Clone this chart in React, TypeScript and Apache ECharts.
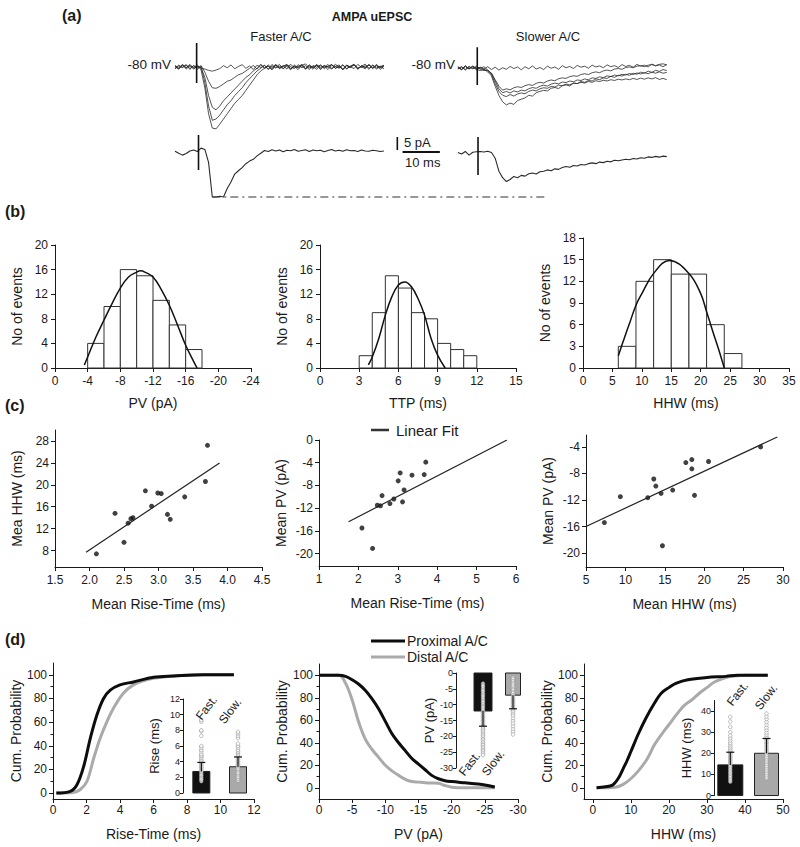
import React, { useEffect, useRef } from "react";
import * as echarts from "echarts";

const FONT = "'Liberation Sans', Arial, Helvetica, sans-serif";
const INK = "#1a1a1a";

// ---------------- (a) AMPA uEPSC traces (pA re. baseline, 1 ms sampling) ----------------
const fasterTraces = [
  [0.6,-0.4,1.0,-0.8,0.5,-0.2,0.8,-1.2,-8,-18,-23.5,-23.8,-22,-20,-18,-16,-14,-12.5,-11,-9,-7,-5,-3,-1.5,-0.5,0.8,-0.5,1.1,-0.7,0.4,0.9,-0.8,0.3,-1.0,0.6,1.2,-0.4,0.2,-0.9,0.7,-0.3,1.0,-0.6,0.2,0.8,-1.1,0.5,-0.2,0.9,-0.7,0.3,1.1,-0.5,0.6,-0.8,0.2,0.5],
  [-0.5,0.7,-0.3,0.9,-0.6,0.4,-0.9,0.3,-6,-15,-20.5,-20,-18.5,-16.5,-14.5,-13,-11,-9.5,-8,-6,-4.5,-3,-1.5,-0.5,0.7,-0.9,0.4,-0.2,1.0,-0.6,0.3,-1.1,0.8,-0.4,0.5,-0.7,0.9,-0.2,0.6,-1.0,0.4,0.1,-0.8,1.1,-0.3,0.7,-0.6,0.2,0.9,-0.9,0.5,-0.1,0.8,-0.5,1.0,-0.3,0.4],
  [0.2,-0.9,0.6,-0.3,1.0,-0.5,0.1,-0.4,-4,-11,-15.5,-16.5,-15,-13,-11.5,-10,-8.5,-7,-5.5,-4,-3,-1.5,-0.5,0.9,-0.6,0.3,-1.0,0.7,-0.2,0.5,-0.8,1.1,-0.4,0.2,0.8,-0.9,0.4,-0.3,1.0,-0.7,0.6,-0.1,0.9,-0.5,0.3,-1.0,0.7,0.1,-0.6,1.0,-0.2,0.5,-0.9,0.8,-0.4,0.3,-0.7],
  [-0.7,0.4,-0.1,0.8,-0.9,0.6,-0.3,0.5,-2,-5.5,-8,-8.2,-7.5,-6.5,-5.5,-5,-4,-3,-2.5,-1.5,-0.5,0.6,-0.8,1.0,-0.3,0.4,-1.1,0.7,-0.5,0.2,0.9,-0.7,0.3,-0.2,1.1,-0.6,0.5,-0.9,0.8,-0.1,0.4,-1.0,0.6,0.2,-0.5,0.9,-0.8,0.3,1.0,-0.4,0.1,-0.7,0.8,-0.3,0.6,-0.9,0.2],
  [0.4,-0.6,0.9,-0.2,0.5,-0.8,0.3,-0.4,-0.8,-1.3,-1.6,-1.2,-0.6,0.5,-0.3,0.8,-0.7,0.2,0.9,-0.5,0.4,-1.0,0.7,-0.2,0.6,-0.9,1.0,-0.4,0.3,-0.7,0.8,0.1,-0.6,0.9,-0.3,0.5,-1.0,0.6,-0.1,0.8,-0.6,0.3,1.0,-0.5,0.2,-0.8,0.7,-0.2,0.9,-0.7,0.4,-0.3,1.0,-0.6,0.5,-0.1,0.7],
];
const slowerTraces = [
  [0.5,-0.6,0.9,-0.3,0.4,-0.5,-1,-0.5,-1.5,-3,-7,-10.5,-13,-14.2,-13.5,-14,-12.5,-12,-11.5,-10.5,-10.8,-9.5,-9,-8.6,-8.8,-7.8,-7.5,-7.9,-6.8,-6.5,-6.9,-5.8,-6,-5.2,-5.5,-4.8,-5,-4.2,-4.5,-3.8,-4,-3.2,-3.6,-2.8,-3.1,-2.4,-2.8,-2,-2.4,-1.6,-2,-1.2,-1.7,-0.9,-1.3,-0.6,-1],
  [-0.3,0.6,-0.8,0.4,-0.2,0.7,-0.5,-1,-0.8,-2.5,-6,-9,-10.5,-11,-10.2,-10.8,-10,-9.6,-9.9,-9,-8.5,-8.8,-8,-7.6,-7.8,-7.1,-7.3,-6.6,-6.8,-6.2,-6.5,-5.8,-6,-5.5,-5.8,-5.2,-5.5,-4.9,-5.2,-4.7,-5,-4.5,-4.8,-4.3,-4.6,-4.2,-4.5,-4,-4.4,-3.9,-4.3,-3.8,-4.2,-3.7,-4.4,-4,-4.5],
  [0.2,-0.7,0.5,-0.4,0.8,-0.2,0.3,-0.6,-1,-2,-5,-8,-9.5,-9,-9.6,-8.8,-9.2,-8.5,-8.8,-8,-7.5,-7.8,-7,-6.6,-7,-6.2,-5.8,-6.1,-5.4,-5.6,-5,-5.3,-4.6,-4.8,-4.2,-4.5,-3.8,-4,-3.4,-3.7,-3,-3.3,-2.7,-3,-2.4,-2.7,-2.1,-2.5,-1.9,-2.3,-1.8,-2.2,-1.6,-2,-1.5,-2,-1.7],
  [-0.4,0.3,-0.6,0.7,-0.3,0.4,-0.2,0.5,-0.8,-2,-4.5,-7,-8.5,-8,-8.4,-7.6,-7.2,-7.5,-6.8,-6.4,-6.7,-5.9,-5.5,-5.8,-5,-4.6,-4.9,-4.1,-3.8,-4,-3.3,-3,-3.2,-2.5,-2.2,-2.5,-1.8,-1.5,-1.8,-1.1,-0.8,-1.1,-0.4,-0.2,-0.5,0.2,0.4,0.1,0.7,0.9,0.5,1.1,1.3,0.9,1.4,1.6,1.2],
  [0.4,-0.5,0.8,-0.3,0.6,-0.7,0.2,-0.4,0.5,-0.6,0.3,-0.8,0.1,-0.5,0.6,-0.2,0.4,-0.7,0.5,-0.3,0.8,-0.4,0.2,-0.6,0.7,-0.1,0.4,-0.5,0.9,0.1,0.6,-0.2,1,0.3,0.7,-0.1,1.1,0.4,0.8,0.1,1.2,0.5,0.9,0.2,1.3,0.6,1,0.3,1.4,0.7,1.1,0.4,1.5,0.8,1.2,0.5,1.3],
];
const fasterExample = [0.3,-0.5,-1.2,-0.6,0.4,0.8,0.2,1.5,1.0,-4,-17.3,-17.3,-17,-17.3,-14,-11.5,-8.5,-7.2,-6,-4.5,-3.5,-2.8,-1.5,-0.5,0.6,0.2,0.9,0.4,0.8,0.1,0.7,0.5,1.0,0.3,0.6,0.9,0.2,0.8,0.5,0.7,0.1,0.6,1.0,0.4,0.7,0.3,0.9,0.5,0.6,0.2,0.8,0.4,0.3,0.7,0.5,0.2,0.4];
const slowerExample = [0.2,-0.4,0.6,-0.8,0.3,0.5,0.6,0.4,0.7,0.2,-2,-7,-9.5,-11,-10.2,-9,-9.5,-8.6,-8.9,-8,-7.7,-8.1,-7.2,-7,-6.5,-6.8,-6.1,-6.3,-5.6,-5.2,-5.5,-4.8,-5,-4.4,-4.6,-4.1,-3.8,-4.1,-3.5,-3.7,-3.2,-3.4,-2.8,-3,-2.7,-2.4,-2.6,-2.1,-2.3,-1.8,-2,-1.5,-1.7,-1.3,-1.6,-1.2,-1.4];
// stimulus artifacts [time ms, upper pA, lower pA]: faster top, slower top, faster example, slower example
const artifacts = [[5.8, 9.2, -6.2], [5.2, 8.0, -6.5], [6.3, 6.5, -6.9], [5.4, 6.2, -8.5]];
const scaleBarPA = 5;
const scaleBarMS = 10;

// ---------------- (b) histograms ----------------
const pvEdges = [-4, -6, -8, -10, -12, -14, -16, -18];
const pvCounts = [4, 10, 16, 15, 11, 7, 3];
const pvFitX = [-3.6, -4, -5, -6, -7, -8, -9, -10, -10.5, -11, -12, -13, -14, -15, -16, -17, -17.4];
const pvFitY = [0.5, 1.8, 5, 7.8, 10.5, 13, 14.8, 15.6, 15.8, 15.6, 14.8, 12.8, 10.2, 7, 3.7, 1, 0];
const ttpEdges = [3, 4, 5, 6, 7, 8, 9, 10, 11, 12];
const ttpCounts = [2, 9, 15, 13, 9, 8, 4, 3, 2];
const ttpFitX = [3.7, 4, 4.5, 5, 5.5, 6, 6.5, 7, 7.5, 8, 8.5, 9, 9.58];
const ttpFitY = [0.5, 1.8, 4.8, 8.6, 11.6, 13.5, 14, 13.2, 11.3, 8.6, 4.8, 2.1, 0];
const hhwEdges = [6, 9, 12, 15, 18, 21, 24, 27];
const hhwCounts = [3, 12, 15, 13, 13, 6, 2];
const hhwFitX = [6, 7, 8, 9, 10, 12, 14.7, 18, 20, 21, 22, 23, 24];
const hhwFitY = [1.7, 4.1, 6.4, 8.7, 10.3, 13.1, 14.9, 13.1, 10.3, 7.8, 5.2, 2.7, 0];

// ---------------- (c) scatter plots ----------------
const riseVsHhwX = [2.1, 2.37, 2.5, 2.56, 2.6, 2.63, 2.81, 2.9, 2.99, 3.04, 3.13, 3.17, 3.38, 3.68, 3.71];
const riseVsHhwY = [7.4, 14.8, 9.5, 13.0, 13.8, 14.0, 18.9, 16.1, 18.5, 18.4, 14.6, 13.7, 17.8, 20.6, 27.2];
const riseVsHhwFitX = [1.95, 3.885];
const riseVsHhwFitY = [7.7, 24.0];
const riseVsPvX = [2.09, 2.36, 2.48, 2.56, 2.6, 2.8, 2.9, 3.01, 3.06, 3.12, 3.16, 3.36, 3.67, 3.71];
const riseVsPvY = [-15.5, -19.1, -11.5, -11.6, -9.8, -11.2, -10.4, -7.2, -5.8, -10.9, -8.8, -6.2, -6.1, -3.9];
const riseVsPvFitX = [1.75, 5.77];
const riseVsPvFitY = [-14.4, 0];
const hhwVsPvX = [7.33, 9.36, 12.84, 13.6, 13.86, 14.53, 14.7, 16.0, 17.67, 18.43, 18.43, 18.77, 20.55, 27.16];
const hhwVsPvY = [-15.4, -11.5, -11.65, -8.83, -9.9, -11.0, -18.9, -10.5, -6.36, -5.9, -7.3, -11.3, -6.2, -4.0];
const hhwVsPvFitX = [5, 29.28];
const hhwVsPvFitY = [-16.0, -2.5];

// ---------------- (d) cumulative distributions ----------------
const riseCumX = [0.2, 1.03, 1.43, 1.83, 2.23, 2.62, 3.02, 3.42, 4.0, 4.8, 6.0, 7.2, 9.0, 10.8];
const riseCumProx = [0, 1.4, 7, 22.5, 46.5, 66, 80, 87, 91.5, 94, 98, 99, 100, 100];
const riseCumDistX = [0.2, 1.2, 1.63, 2.03, 2.43, 2.82, 3.22, 3.62, 4.2, 4.8, 5.4, 6.0, 7.2, 9.0, 10.8];
const riseCumDist = [0, 0.5, 3, 10, 29.5, 46.5, 60.5, 72, 84.5, 91.5, 95, 97, 99, 100, 100];
const pvCumX = [0, -3, -4, -5, -6, -7, -8, -9, -10, -11, -12, -13, -14, -15, -16, -17, -18, -19, -20, -22, -24, -25, -26.5];
const pvCumProx = [100, 100, 99, 96, 92, 86.5, 79, 70, 59, 48, 40, 33, 26, 21, 16, 11, 8, 6.3, 5.5, 4.4, 3.3, 2.5, 0.6];
const pvCumDist = [100, 100, 93, 78, 58, 43, 34, 27, 20, 15, 11, 7.5, 5.5, 5, 4.5, 4.2, 4, 2, 0.5, 0, 0, 0, 0];
const hhwCumX = [1, 5, 6, 7, 8, 9, 10, 12, 14, 16, 18, 20, 22, 25, 30, 35, 38, 46];
const hhwCumProx = [0, 2, 5, 10, 17, 24, 32, 48, 62, 74, 84, 89, 93, 96, 98, 99, 100, 100];
const hhwCumDistX = [1, 6, 8, 10, 12, 14, 15, 16, 18, 20, 22, 24, 26, 28, 30, 32, 35, 38, 40, 46];
const hhwCumDist = [0, 0.5, 3, 8, 15, 24, 30, 37, 47, 56, 65, 73, 78, 84, 89, 94, 98, 99.5, 100, 100];

// insets: means, SDs and individual events
const riseMeans = [2.75, 3.35];
const riseSDs = [1.15, 1.25];
const riseFastDots = [1.5, 1.7, 1.8, 2.0, 2.2, 2.3, 2.5, 2.7, 2.8, 3.0, 3.2, 3.3, 3.5, 3.7, 3.9, 4.1, 4.3, 4.5, 4.7, 4.8, 5.0, 5.3, 5.5, 5.8, 6.0, 7.3, 7.9, 8.0, 9.1, 9.3];
const riseSlowDots = [1.6, 1.8, 2.0, 2.1, 2.3, 2.5, 2.6, 2.8, 3.0, 3.1, 3.3, 3.5, 3.6, 3.8, 4.0, 4.1, 4.3, 4.5, 4.7, 4.9, 5.1, 5.3, 5.5, 5.8, 6.0, 6.3, 7.0, 7.3, 7.6, 7.8];
const pvMeans = [-12, -7];
const pvSDs = [4.8, 4.3];
const pvFastDots = [-3.3, -3.9, -4.3, -4.9, -5.4, -5.8, -6.4, -6.9, -7.3, -7.8, -8.4, -8.9, -9.3, -9.9, -10.4, -10.8, -11.3, -11.9, -12.4, -12.8, -13.4, -13.9, -14.3, -14.9, -15.3, -15.9, -16.4, -16.8, -17.4, -17.9, -18.3, -18.9, -19.4, -19.8, -20.4, -20.9, -21.3, -21.9, -22.4, -22.8, -23.4, -23.9, -24.4, -24.8, -25.4, -25.9];
const pvSlowDots = [-1.5, -2.0, -2.6, -3.1, -3.5, -4.0, -4.6, -5.1, -5.5, -6.0, -6.4, -7.0, -7.5, -8.1, -8.6, -9.0, -9.5, -10.0, -10.4, -10.9, -11.3, -11.8, -12.2, -12.9, -13.5, -14.4, -15.2, -16.0, -16.9, -17.8, -18.6, -19.4];
const hhwMeans = [14.5, 20];
const hhwSDs = [6, 7];
const hhwFastDots = [6.5, 7.2, 8.0, 8.8, 9.5, 10.3, 11.0, 11.8, 12.5, 13.3, 14.0, 14.8, 15.5, 16.3, 17.0, 17.8, 18.5, 19.3, 20.1, 20.8, 21.6, 22.4, 23.3, 24.2, 25.0, 26.1, 27.2, 28.4, 30.0, 32.5, 35.0, 37.2];
const hhwSlowDots = [8.2, 9.0, 9.9, 10.7, 11.6, 12.4, 13.3, 14.1, 15.0, 15.9, 16.7, 17.6, 18.4, 19.3, 20.2, 21.0, 21.9, 22.7, 23.6, 24.5, 25.3, 26.2, 27.1, 27.9, 28.8, 29.8, 31.0, 32.2, 33.5, 34.8, 36.2, 37.5, 38.8];

// ---------------- helpers ----------------
function axis(gridIndex: number, o: any = {}) {
  return {
    type: "value",
    gridIndex,
    position: o.position,
    min: o.min,
    max: o.max,
    interval: o.interval,
    inverse: !!o.inverse,
    show: o.show !== false,
    name: o.name,
    nameLocation: "middle",
    nameGap: o.nameGap,
    nameTextStyle: { color: INK, fontSize: o.nameSize ?? 14, fontFamily: FONT },
    axisLine: { show: o.line !== false, onZero: false, lineStyle: { color: INK, width: 1 } },
    axisTick: { show: o.tick !== false, length: o.tickLen ?? 4, lineStyle: { color: INK, width: 1 }, customValues: o.tickValues ?? o.ticks },
    axisLabel: {
      show: o.labels !== false,
      color: INK,
      fontSize: o.labelSize ?? 12,
      fontFamily: FONT,
      margin: o.margin ?? 6,
      customValues: o.ticks,
      formatter: o.formatter,
      hideOverlap: false,
    },
    splitLine: { show: false },
  };
}

const histRender = (params: any, api: any) => {
  const p0 = api.coord([api.value(0), api.value(2)]);
  const p1 = api.coord([api.value(1), 0]);
  return {
    type: "rect",
    shape: { x: Math.min(p0[0], p1[0]), y: p0[1], width: Math.abs(p1[0] - p0[0]), height: p1[1] - p0[1] },
    style: { fill: "#fff", stroke: "#333", lineWidth: 1 },
  };
};

const barRender = (width: number, fill: string) => (params: any, api: any) => {
  const p0 = api.coord([api.value(0), 0]);
  const p1 = api.coord([api.value(0), api.value(1)]);
  return {
    type: "rect",
    shape: { x: p0[0] - width / 2, y: Math.min(p0[1], p1[1]), width, height: Math.abs(p1[1] - p0[1]) },
    style: { fill, stroke: "#222", lineWidth: 1 },
  };
};

const errRender = (params: any, api: any) => {
  const x = api.value(0), m = api.value(1), sd = api.value(2);
  const end = m + Math.sign(m) * sd;
  const a = api.coord([x, m]);
  const b = api.coord([x, end]);
  return {
    type: "group",
    children: [
      { type: "line", shape: { x1: a[0], y1: a[1], x2: b[0], y2: b[1] }, style: { stroke: "#111", lineWidth: 1.2 } },
      { type: "line", shape: { x1: b[0] - 4, y1: b[1], x2: b[0] + 4, y2: b[1] }, style: { stroke: "#111", lineWidth: 1.2 } },
    ],
  };
};

const zip = (xs: number[], ys: number[]) => xs.map((x, i) => [x, ys[i]]);

function buildOption() {
  const series: any[] = [];
  const xAxis: any[] = [];
  const yAxis: any[] = [];

  // ---- grid 0: traces (3.73 px per ms, 2.6 px per pA) ----
  const grids: any[] = [{ left: 175, top: 40, width: 492.4, height: 169 }];
  xAxis.push(axis(0, { min: 0, max: 132, show: false }));
  yAxis.push(axis(0, { min: -65, max: 0, show: false }));
  const rightShift = 75.83;
  const topLeftBase = -10.38, topRightBase = -10.77, botLeftBase = -43.08, botRightBase = -43.46;
  const traceLine = (arr: number[], t0: number, v0: number, w: number) => ({
    type: "line", xAxisIndex: 0, yAxisIndex: 0, silent: true, showSymbol: false,
    lineStyle: { color: "#2a2a2a", width: w },
    data: arr.map((v, i) => [t0 + i, v0 + v]),
  });
  fasterTraces.forEach((tr) => series.push(traceLine(tr, 0, topLeftBase, 0.8)));
  slowerTraces.forEach((tr) => series.push(traceLine(tr, rightShift, topRightBase, 0.8)));
  series.push(traceLine(fasterExample, 0, botLeftBase, 1.1));
  series.push(traceLine(slowerExample, rightShift, botRightBase, 1.1));
  const artOffsets = [[0, topLeftBase], [rightShift, topRightBase], [0, botLeftBase], [rightShift, botRightBase]];
  artifacts.forEach((a, i) => {
    const [t0, v0] = artOffsets[i];
    series.push({
      type: "line", xAxisIndex: 0, yAxisIndex: 0, silent: true, showSymbol: false,
      lineStyle: { color: "#111", width: 1.6 },
      data: [[t0 + a[0], v0 + a[1]], [t0 + a[0], v0 + a[2]]],
    });
  });
  // dash-dot reference at the peak of the faster example
  const minV = Math.min(...fasterExample);
  const minT = fasterExample.indexOf(minV);
  series.push({
    type: "line", xAxisIndex: 0, yAxisIndex: 0, silent: true, showSymbol: false,
    lineStyle: { color: "#333", width: 1.1, type: [8, 4, 2, 4] },
    data: [[minT, botLeftBase + minV], [rightShift + 23.3, botLeftBase + minV]],
  });
  // scale bars
  const sbT = 59.6, sbV = -37.3;
  series.push({
    type: "line", xAxisIndex: 0, yAxisIndex: 0, silent: true, showSymbol: false,
    lineStyle: { color: "#111", width: 1.6 },
    data: [[sbT, sbV], [sbT, sbV - scaleBarPA]],
  });
  series.push({
    type: "line", xAxisIndex: 0, yAxisIndex: 0, silent: true, showSymbol: false,
    lineStyle: { color: "#111", width: 2 },
    data: [[sbT + 1.4, sbV - 5.8], [sbT + 1.4 + scaleBarMS, sbV - 5.8]],
  });

  // ---- (b) histograms ----
  const hists = [
    { g: { left: 55, top: 245, width: 196, height: 123 }, x: { min: -24, max: 0, interval: 4, inverse: true, name: "PV (pA)" }, y: { min: 0, max: 20, interval: 4 }, edges: pvEdges, counts: pvCounts, fx: pvFitX, fy: pvFitY },
    { g: { left: 320, top: 245, width: 196, height: 123 }, x: { min: 0, max: 15, interval: 3, name: "TTP (ms)" }, y: { min: 0, max: 20, interval: 4 }, edges: ttpEdges, counts: ttpCounts, fx: ttpFitX, fy: ttpFitY },
    { g: { left: 583, top: 238, width: 206, height: 130 }, x: { min: 0, max: 35, interval: 5, name: "HHW (ms)" }, y: { min: 0, max: 18, interval: 3 }, edges: hhwEdges, counts: hhwCounts, fx: hhwFitX, fy: hhwFitY },
  ];
  hists.forEach((h) => {
    const gi = grids.length;
    grids.push(h.g);
    const ai = xAxis.length;
    xAxis.push(axis(gi, { ...h.x, nameGap: 28, margin: 7 }));
    yAxis.push(axis(gi, { ...h.y, name: "No of events", nameGap: 31, margin: 7 }));
    series.push({
      type: "custom", xAxisIndex: ai, yAxisIndex: ai, silent: true, renderItem: histRender,
      data: h.counts.map((c, i) => [h.edges[i], h.edges[i + 1], c]),
    });
    series.push({
      type: "line", xAxisIndex: ai, yAxisIndex: ai, silent: true, showSymbol: false, smooth: 0.4,
      lineStyle: { color: "#111", width: 1.5 }, data: zip(h.fx, h.fy),
    });
  });

  // ---- (c) scatter plots ----
  const scat = [
    { g: { left: 55, top: 430, width: 207, height: 137 }, x: { min: 1.5, max: 4.5, interval: 0.5, name: "Mean Rise-Time (ms)", formatter: (v: number) => v.toFixed(1) }, y: { min: 5, max: 30, ticks: [8, 12, 16, 20, 24, 28], name: "Mea HHW (ms)" }, px: riseVsHhwX, py: riseVsHhwY, fx: riseVsHhwFitX, fy: riseVsHhwFitY },
    { g: { left: 319, top: 440, width: 197, height: 126 }, x: { min: 1, max: 6, interval: 1, name: "Mean Rise-Time (ms)" }, y: { min: -22.2, max: 0, ticks: [0, -4, -8, -12, -16, -20], name: "Mean PV (pA)" }, px: riseVsPvX, py: riseVsPvY, fx: riseVsPvFitX, fy: riseVsPvFitY },
    { g: { left: 586, top: 435, width: 197, height: 132 }, x: { min: 5, max: 30, interval: 5, name: "Mean HHW (ms)" }, y: { min: -22.1, max: -2.2, ticks: [-4, -8, -12, -16, -20], name: "Mean PV (pA)" }, px: hhwVsPvX, py: hhwVsPvY, fx: hhwVsPvFitX, fy: hhwVsPvFitY },
  ];
  scat.forEach((s) => {
    const gi = grids.length;
    grids.push(s.g);
    const ai = xAxis.length;
    xAxis.push(axis(gi, { ...s.x, nameGap: 30, margin: 7 }));
    yAxis.push(axis(gi, { ...s.y, nameGap: 31, margin: 6 }));
    series.push({
      type: "line", xAxisIndex: ai, yAxisIndex: ai, silent: true, showSymbol: false,
      lineStyle: { color: "#222", width: 1.2 }, data: zip(s.fx, s.fy),
    });
    series.push({
      type: "scatter", xAxisIndex: ai, yAxisIndex: ai, silent: true, symbolSize: 5,
      itemStyle: { color: "#111" }, data: zip(s.px, s.py),
    });
  });

  // ---- (d) cumulative plots ----
  const cums = [
    { g: { left: 53, top: 663, width: 201, height: 136 }, x: { min: 0, max: 12, interval: 2, name: "Rise-Time (ms)" }, y: { min: -5, max: 110 }, prox: zip(riseCumX, riseCumProx), dist: zip(riseCumDistX, riseCumDist) },
    { g: { left: 319, top: 664, width: 199, height: 135 }, x: { min: -30, max: 0, interval: 5, inverse: true, name: "PV (pA)" }, y: { min: -10, max: 110 }, prox: zip(pvCumX, pvCumProx), dist: zip(pvCumX, pvCumDist) },
    { g: { left: 584, top: 664, width: 199, height: 135 }, x: { min: -2.3, max: 50, ticks: [0, 10, 20, 30, 40, 50], name: "HHW (ms)" }, y: { min: -10, max: 110 }, prox: zip(hhwCumX, hhwCumProx), dist: zip(hhwCumDistX, hhwCumDist) },
  ];
  const cumGrid: number[] = [];
  cums.forEach((c) => {
    const gi = grids.length;
    cumGrid.push(gi);
    grids.push(c.g);
    const ai = xAxis.length;
    xAxis.push(axis(gi, { ...c.x, nameGap: 28, margin: 5 }));
    yAxis.push(axis(gi, { ...c.y, ticks: [0, 20, 40, 60, 80, 100], name: "Cum. Probability", nameGap: 30, margin: 6 }));
    series.push({
      type: "line", xAxisIndex: ai, yAxisIndex: ai, silent: true, showSymbol: false, smooth: 0.35,
      lineStyle: { color: "#aaaaaa", width: 3 }, data: c.dist, z: 3,
    });
    series.push({
      type: "line", xAxisIndex: ai, yAxisIndex: ai, silent: true, showSymbol: false, smooth: 0.35,
      lineStyle: { color: "#0d0d0d", width: 3 }, data: c.prox, z: 4,
    });
  });

  // ---- insets ----
  const insets = [
    { g: { left: 183, top: 699, width: 77, height: 94 }, x: { min: 0.5, max: 2.6 }, y: { min: 0, max: 12, interval: 2, name: "Rise (ms)", nameGap: 22, nameSize: 13 }, w: [17, 17], means: riseMeans, sds: riseSDs, fast: riseFastDots, slow: riseSlowDots },
    { g: { left: 456, top: 673, width: 66, height: 95 }, x: { min: 0.1, max: 2.3 }, y: { min: -30, max: 0, interval: 5, name: "PV (pA)", nameGap: 16, nameSize: 13 }, w: [18, 15], means: pvMeans, sds: pvSDs, fast: pvFastDots, slow: pvSlowDots },
    { g: { left: 714, top: 700.5, width: 67, height: 95 }, x: { min: 0.55, max: 2.4 }, y: { min: 0, max: 45, ticks: [0, 10, 20, 30, 40], name: "HHW (ms)", nameGap: 21, nameSize: 13 }, w: [25, 24], means: hhwMeans, sds: hhwSDs, fast: hhwFastDots, slow: hhwSlowDots },
  ];
  insets.forEach((s) => {
    const gi = grids.length;
    grids.push(s.g);
    const ai = xAxis.length;
    xAxis.push(axis(gi, { ...s.x, show: false }));
    yAxis.push(axis(gi, { ...s.y, labelSize: 9, tickLen: 3, margin: 3 }));
    series.push({ type: "custom", xAxisIndex: ai, yAxisIndex: ai, silent: true, renderItem: barRender(s.w[0], "#111"), data: [[1, s.means[0]]], z: 5 });
    series.push({ type: "custom", xAxisIndex: ai, yAxisIndex: ai, silent: true, renderItem: barRender(s.w[1], "#a9a9a9"), data: [[2, s.means[1]]], z: 5 });
    series.push({
      type: "scatter", xAxisIndex: ai, yAxisIndex: ai, silent: true, symbolSize: 3.6, z: 6,
      itemStyle: { color: "#ffffff", borderColor: "#8a8a8a", borderWidth: 0.7 },
      data: [...s.fast.map((v) => [1, v]), ...s.slow.map((v) => [2, v])],
    });
    series.push({
      type: "custom", xAxisIndex: ai, yAxisIndex: ai, silent: true, renderItem: errRender, z: 7,
      data: [[1, s.means[0], s.sds[0]], [2, s.means[1], s.sds[1]]],
    });
  });

  // minor ticks on the cumulative y axes
  cumGrid.forEach((gi, k) => {
    yAxis.push(axis(gi, { position: "left", min: cums[k].y.min, max: cums[k].y.max, ticks: [10, 30, 50, 70, 90], tickLen: 2.5, labels: false, line: false }));
  });

  const txt = (text: string, x: number, y: number, o: any = {}) => ({
    type: "text", x, y, silent: true, rotation: o.rotation ?? 0, scaleX: o.scaleX ?? 1, z: 100,
    style: {
      text, fill: INK, fontFamily: FONT, fontSize: o.size ?? 14, fontWeight: o.bold ? "bold" : "normal",
      align: o.align ?? "left", verticalAlign: o.va ?? "middle",
      textAlign: o.align ?? "left", textVerticalAlign: o.va ?? "middle",
    },
  });
  const seg = (x1: number, y1: number, x2: number, y2: number, color: string, w: number) => ({
    type: "line", silent: true, z: 100, shape: { x1, y1, x2, y2 }, style: { stroke: color, lineWidth: w },
  });
  const deg = Math.PI / 180;

  const graphic = [
    txt("(a)", 62, 15, { size: 16, bold: true }),
    txt("(b)", 5, 211, { size: 16, bold: true }),
    txt("(c)", 5, 405, { size: 16, bold: true }),
    txt("(d)", 5, 639, { size: 16, bold: true }),
    txt("AMPA uEPSC", 372, 17, { size: 12.5, bold: true, align: "center" }),
    txt("Faster A/C", 281, 36, { size: 13, align: "center" }),
    txt("Slower A/C", 548, 36, { size: 13, align: "center" }),
    txt("-80 mV", 171, 64, { size: 13.5, align: "right" }),
    txt("-80 mV", 455, 64, { size: 13.5, align: "right" }),
    txt("5 pA", 404, 142, { size: 13 }),
    txt("10 ms", 405, 162, { size: 13 }),
    seg(371, 430, 389, 430, "#333", 2.5),
    txt("Linear Fit", 396, 430, { size: 15 }),
    seg(371, 641, 405, 641, "#0d0d0d", 3),
    txt("Proximal A/C", 407, 641, { size: 14 }),
    seg(371, 657, 405, 657, "#aaaaaa", 3),
    txt("Distal A/C", 407, 657, { size: 14 }),
    txt("Fast.", 203, 722, { size: 12, rotation: 52 * deg, va: "bottom" }),
    txt("Slow.", 226, 726, { size: 12, rotation: 52 * deg, va: "bottom" }),
    txt("Fast.", 466, 778, { size: 12, rotation: 52 * deg, va: "bottom" }),
    txt("Slow.", 489, 778, { size: 12, rotation: 52 * deg, va: "bottom" }),
    txt("Fast.", 734, 708, { size: 12, rotation: 52 * deg, va: "bottom" }),
    txt("Slow.", 762, 712, { size: 12, rotation: 52 * deg, va: "bottom" }),
  ];

  return {
    animation: false,
    backgroundColor: "#ffffff",
    textStyle: { fontFamily: FONT },
    grid: grids,
    xAxis,
    yAxis,
    series,
    graphic,
  };
}

export default function App() {
  const ref = useRef<HTMLDivElement>(null);
  useEffect(() => {
    const chart = echarts.init(ref.current!, null, { renderer: "svg" });
    chart.setOption(buildOption() as any);
    return () => chart.dispose();
  }, []);
  return <div ref={ref} style={{ position: "absolute", left: 0, top: 0, width: 800, height: 847, background: "#fff" }} />;
}
